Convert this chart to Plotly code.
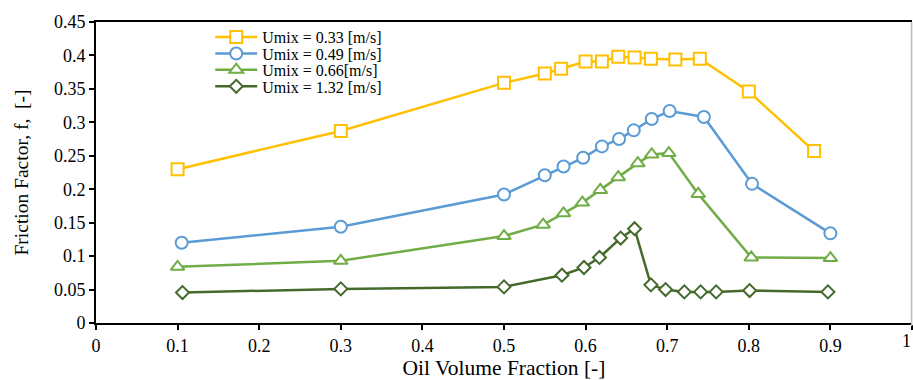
import plotly.graph_objects as go

# ---- data ----
x_033 = [0.10, 0.30, 0.50, 0.55, 0.57, 0.60, 0.62, 0.64, 0.66, 0.68, 0.71, 0.74, 0.80, 0.88]
y_033 = [0.230, 0.287, 0.359, 0.373, 0.380, 0.391, 0.391, 0.398, 0.397, 0.395, 0.394, 0.395, 0.346, 0.257]

x_049 = [0.105, 0.30, 0.50, 0.55, 0.573, 0.597, 0.62, 0.641, 0.659, 0.681, 0.703, 0.745, 0.804, 0.90]
y_049 = [0.120, 0.144, 0.192, 0.221, 0.234, 0.247, 0.264, 0.275, 0.288, 0.305, 0.317, 0.308, 0.208, 0.134]

x_066 = [0.10, 0.30, 0.50, 0.548, 0.573, 0.596, 0.618, 0.640, 0.664, 0.681, 0.702, 0.738, 0.803, 0.90]
y_066 = [0.084, 0.093, 0.130, 0.147, 0.164, 0.180, 0.199, 0.218, 0.239, 0.252, 0.254, 0.193, 0.098, 0.097]

x_132 = [0.106, 0.30, 0.50, 0.571, 0.598, 0.617, 0.643, 0.660, 0.680, 0.698, 0.721, 0.741, 0.760, 0.801, 0.897]
y_132 = [0.0455, 0.051, 0.054, 0.0715, 0.083, 0.098, 0.127, 0.141, 0.057, 0.050, 0.0465, 0.0465, 0.0465, 0.0485, 0.0465]

names = ["Umix = 0.33 [m/s]", "Umix = 0.49 [m/s]", "Umix = 0.66[m/s]", "Umix = 1.32 [m/s]"]
colors = ["#FFC000", "#5B9BD5", "#70AD47", "#44692B"]
symbols = ["square", "circle", "triangle-up", "diamond"]
sizes = [12, 12, 12, 10]

x_ticks = [0, 0.1, 0.2, 0.3, 0.4, 0.5, 0.6, 0.7, 0.8, 0.9, 1]
x_tick_text = ["0", "0.1", "0.2", "0.3", "0.4", "0.5", "0.6", "0.7", "0.8", "0.9", ""]
x_last_label = "1"
y_ticks = [0, 0.05, 0.1, 0.15, 0.2, 0.25, 0.3, 0.35, 0.4, 0.45]
y_tick_text = ["0", "0.05", "0.1", "0.15", "0.2", "0.25", "0.3", "0.35", "0.4", "0.45"]

FONT = "Liberation Serif"

legend_ids = ["legend", "legend2", "legend3", "legend4"]
legend_y = [0.950, 0.895, 0.841, 0.786]

fig = go.Figure()
for xs, ys, nm, c, s, sz, lg in zip([x_033, x_049, x_066, x_132], [y_033, y_049, y_066, y_132],
                                    names, colors, symbols, sizes, legend_ids):
    fig.add_trace(go.Scatter(
        x=xs, y=ys, name=nm, mode="lines+markers", legend=lg,
        line=dict(color=c, width=2.5),
        marker=dict(symbol=s, size=sz, color="white", line=dict(color=c, width=2)),
    ))

layout_legends = {}
for lg, ly in zip(legend_ids, legend_y):
    layout_legends[lg] = dict(x=0.14, y=ly, xanchor="left", yanchor="middle",
                              bgcolor="rgba(0,0,0,0)", borderwidth=0,
                              font=dict(size=16, family=FONT, color="black"),
                              itemwidth=42)

fig.update_layout(
    width=913, height=380,
    margin=dict(l=96, r=1, t=22, b=57),
    paper_bgcolor="white", plot_bgcolor="white",
    font=dict(family=FONT, size=18, color="black"),
    showlegend=True,
    **layout_legends,
    xaxis=dict(range=[0, 1], tickvals=x_ticks, ticktext=x_tick_text,
               showgrid=False, zeroline=False,
               showline=True, linecolor="black", linewidth=2, mirror=True,
               ticks="outside", ticklen=5, tickwidth=1.5, tickcolor="black",
               tickfont=dict(size=18, family=FONT, color="black"),
               title=dict(text="Oil Volume Fraction [-]", font=dict(size=21.5, family=FONT), standoff=8)),
    yaxis=dict(range=[0, 0.45], tickvals=y_ticks, ticktext=y_tick_text,
               showgrid=False, zeroline=False,
               showline=True, linecolor="black", linewidth=2,
               ticks="outside", ticklen=5, tickwidth=1.5, tickcolor="black",
               tickfont=dict(size=18, family=FONT, color="black"),
               title=dict(text="Friction Factor, f,  [-]", font=dict(size=19.5, family=FONT), standoff=20)),
)

fig.add_annotation(x=x_ticks[-1], xref="x", y=-0.022, yref="paper", text=x_last_label,
                   showarrow=False, xanchor="right", yanchor="top", borderpad=0,
                   font=dict(size=18, family=FONT, color="black"))

fig.add_shape(type="line", xref="paper", yref="paper", x0=0.9995, x1=0.9995, y0=-0.01, y1=1,
              line=dict(color="#BBBBBB", width=1.5))

fig.write_html("out.html")
